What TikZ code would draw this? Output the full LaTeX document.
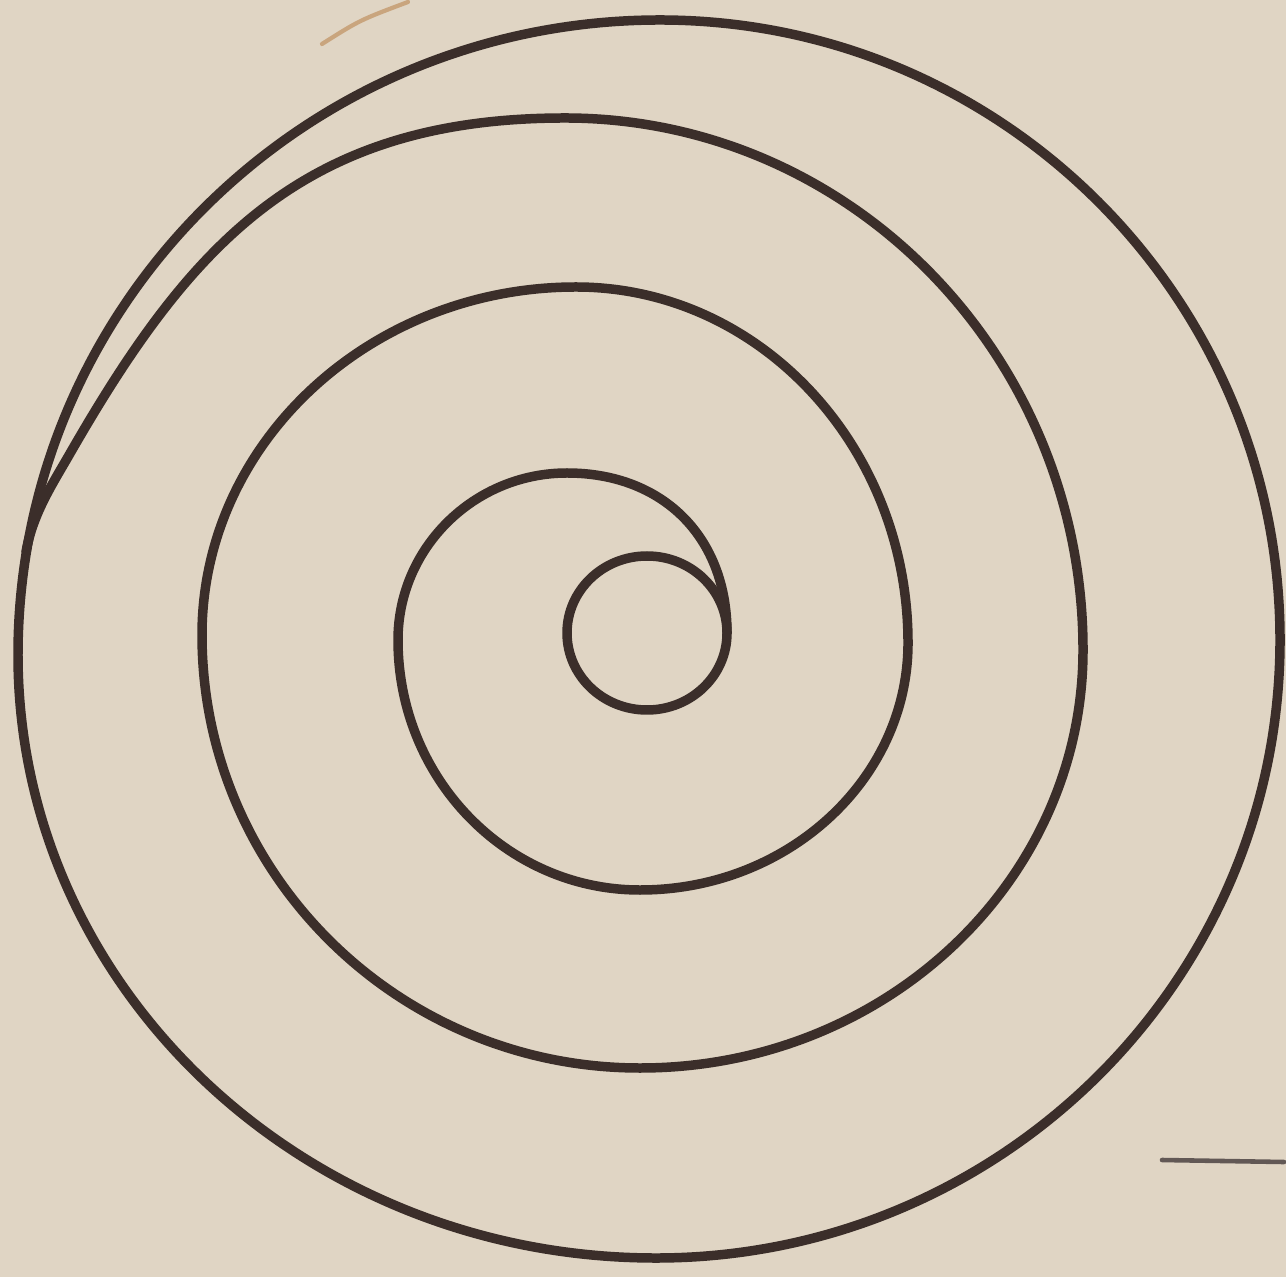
\documentclass[tikz,border=0pt]{standalone}
\usepackage{xcolor}
\usepackage{tikz}
\usetikzlibrary{calc}
\definecolor{paperbeige}{HTML}{E0D5C4}
\definecolor{inkbrown}{HTML}{3B2E2A}
\definecolor{stainbrown}{HTML}{C9A57E}

\begin{document}
\begin{tikzpicture}[x=0.01cm, y=-0.01cm,
    inkline/.style={draw=inkbrown, line width=2.7pt, line cap=round, line join=round}]
    \fill[paperbeige] (0,0) rectangle (1286,1277);
    \useasboundingbox (0,0) rectangle (1286,1277);
    % stray marks on the sheet
    \draw[stainbrown, line width=1.2pt, line cap=round] (322,44) .. controls (360,20) .. (408,2);
    \draw[inkbrown!80, line width=1.3pt, line cap=round] (1162,1160) -- (1284,1162);
    % outer ring
    \coordinate (otop) at (660,20);
    \coordinate (oleft) at (18,655);
    \coordinate (obot) at (656,1258);
    \coordinate (oright) at (1280,640);
    \draw[inkline] (otop)
      .. controls (306,20) and (18,304) .. (oleft)
      .. controls (18,988) and (304,1258) .. (obot)
      .. controls (1000,1258) and (1280,981) .. (oright)
      .. controls (1280,298) and (1002,20) .. cycle;
    % inner eye
    \draw[inkline] (647,633) ellipse [x radius=80, y radius=77];
    % turning points of the spiral
    \coordinate (r1) at (727,633);
    \coordinate (t2) at (567,473);
    \coordinate (l2) at (398,640);
    \coordinate (b2) at (640,890);
    \coordinate (r2) at (908,643);
    \coordinate (t3) at (576,287);
    \coordinate (l3) at (202,635);
    \coordinate (b3) at (640,1068);
    \coordinate (r3) at (1083,650);
    \coordinate (t4) at (565,118);
    \coordinate (s4) at (72,450);
    \coordinate (m4) at (26,552);
    % the spiral between them
    \draw[inkline] (r1)
      .. controls (727,537) and (663,473) .. (t2)
      .. controls (474,473) and (398,548) .. (l2)
      .. controls (398,778) and (506,890) .. (b2)
      .. controls (788,890) and (908,779) .. (r2)
      .. controls (908,446) and (759,287) .. (t3)
      .. controls (370,287) and (202,443) .. (l3)
      .. controls (202,874) and (398,1068) .. (b3)
      .. controls (885,1068) and (1083,881) .. (r3)
      .. controls (1083,356) and (851,118) .. (t4)
      .. controls (305,118) and (192,242) .. (s4)
      .. controls (52,485) and (33,513) .. (m4);
  \end{tikzpicture}
\end{document}
